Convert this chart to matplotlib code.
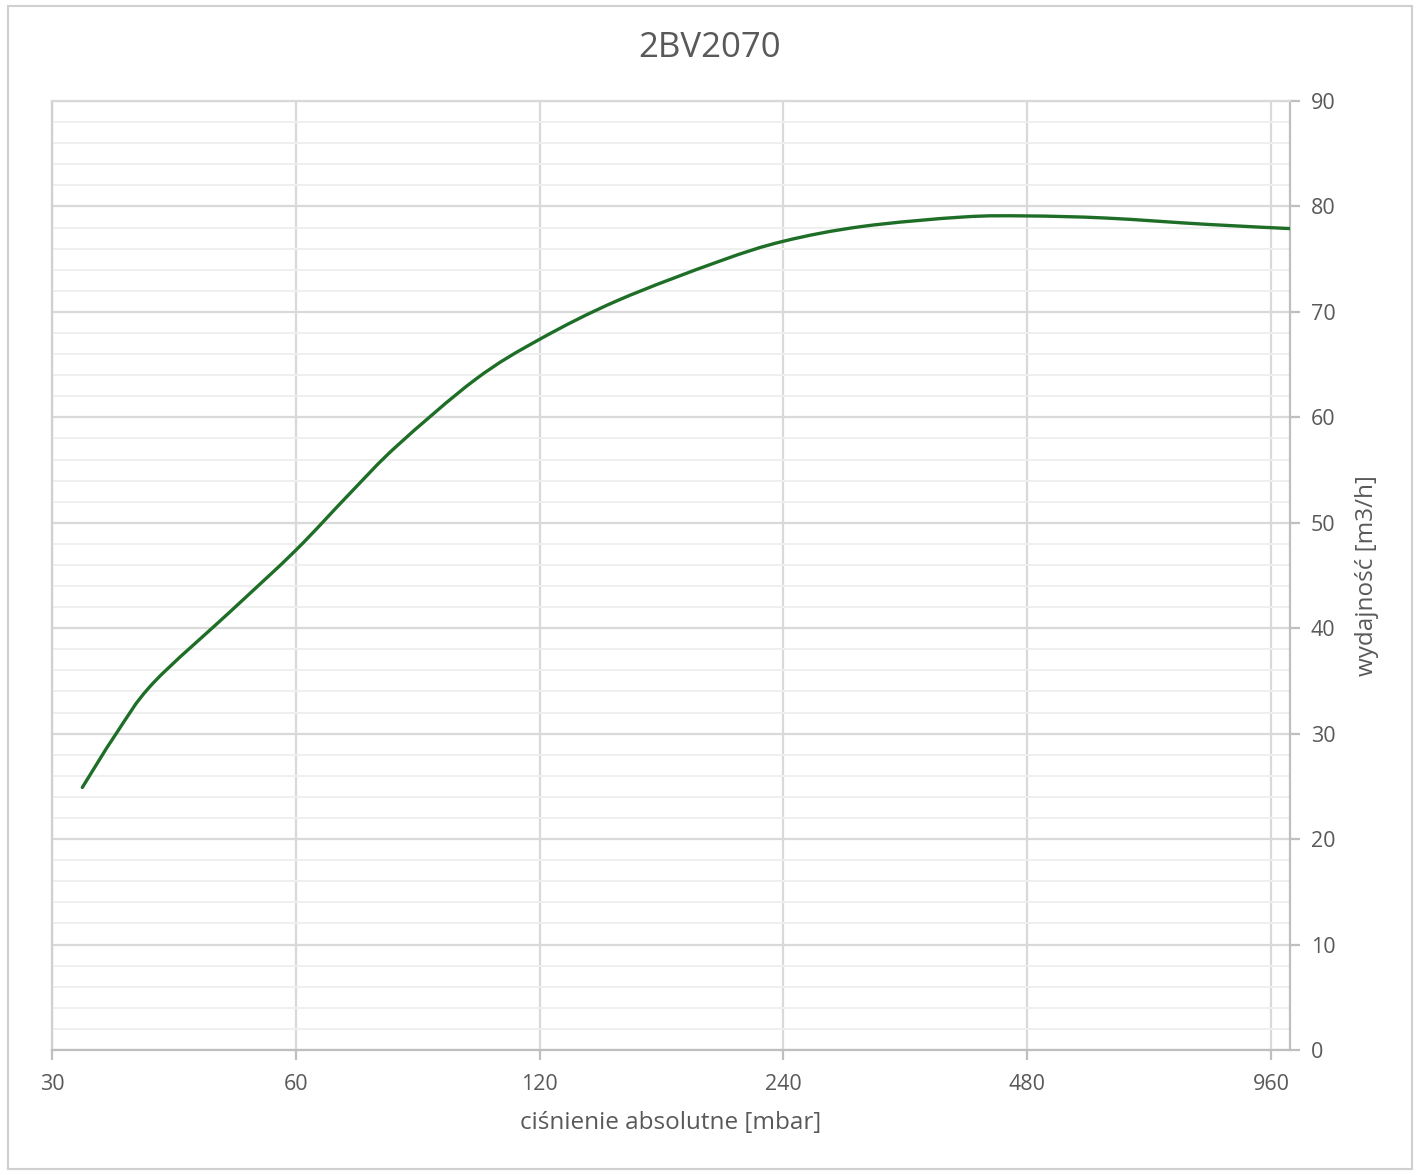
import matplotlib
matplotlib.use("Agg")
import numpy as np
import matplotlib.pyplot as plt
from matplotlib.ticker import FixedLocator, MultipleLocator, NullLocator
from matplotlib.patches import Rectangle, PathPatch
from matplotlib.path import Path

plt.rcParams['font.family'] = ['Open Sans', 'DejaVu Sans']

title = "2BV2070"
x_label = "ciśnienie absolutne [mbar]"
y_label = "wydajność [m3/h]"

pressure = [32.7, 36, 40, 50, 60, 70, 80, 100, 120, 150, 200, 240, 300, 400,
            480, 600, 800, 1013]
flow = [24.9, 30.0, 34.8, 41.7, 47.4, 52.8, 57.3, 63.6, 67.4, 71.1, 74.8, 76.7,
        78.1, 79.0, 79.1, 78.9, 78.3, 77.9]

x_ticks = [30, 60, 120, 240, 480, 960]
x_min, x_max = 30, 1013
y_min, y_max = 0, 90

TXT = '#595959'
MAJ = '#d9d9d9'
MIN = '#efefef'

fig = plt.figure(figsize=(14.19, 11.75), dpi=100)
fig.patches.append(Rectangle((8/1419, 6/1175), 1404/1419, 1163/1175, transform=fig.transFigure,
                             fill=False, edgecolor='#d0d0d0', linewidth=1.5))
ax = fig.add_axes([52/1419, 125/1175, 1238/1419, 949/1175])
ax.set_xscale('log', base=2)
ax.set_xlim(x_min, x_max)
ax.set_ylim(y_min, y_max)

ax.xaxis.set_major_locator(FixedLocator(x_ticks))
ax.xaxis.set_minor_locator(NullLocator())
ax.set_xticklabels([str(t) for t in x_ticks])
ax.yaxis.set_major_locator(MultipleLocator(10))
ax.yaxis.set_minor_locator(MultipleLocator(2))

ax.grid(which='major', axis='both', color=MAJ, linewidth=1.6, zorder=0)
ax.grid(which='minor', axis='y', color=MIN, linewidth=1.4, zorder=0)
ax.set_axisbelow(True)

for s in ['left', 'right', 'bottom', 'top']:
    ax.spines[s].set_color('#d0d0d0')
    ax.spines[s].set_linewidth(1.6)
ax.spines['top'].set_color(MAJ)
ax.spines['bottom'].set_color('#bfbfbf')
ax.spines['right'].set_color('#bfbfbf')

ax.yaxis.tick_right()
ax.yaxis.set_label_position('right')
ax.tick_params(axis='y', which='major', length=7, width=1.6, color='#bfbfbf',
               labelcolor=TXT, labelsize=15.5, pad=8, direction='out')
ax.tick_params(axis='y', which='minor', length=0)
ax.tick_params(axis='x', which='major', length=7, width=1.6, color='#bfbfbf',
               labelcolor=TXT, labelsize=15.5, pad=10, direction='out')

# Smoothed line (Catmull-Rom -> cubic Bezier) through the data points,
# built in log2(x) space so the curve is smooth on the log axis.
lx = np.log2(np.array(pressure, dtype=float))
yy = np.array(flow, dtype=float)
pts = np.column_stack([lx, yy])
verts = [pts[0]]
codes = [Path.MOVETO]
n = len(pts)
for i in range(n - 1):
    p0 = pts[i - 1] if i > 0 else pts[i]
    p1 = pts[i]
    p2 = pts[i + 1]
    p3 = pts[i + 2] if i + 2 < n else pts[i + 1]
    c1 = p1 + (p2 - p0) / 6.0
    c2 = p2 - (p3 - p1) / 6.0
    verts += [c1, c2, p2]
    codes += [Path.CURVE4] * 3
verts = np.array(verts)
verts[:, 0] = 2.0 ** verts[:, 0]
curve = PathPatch(Path(verts, codes), fill=False, edgecolor='#1e6e27', linewidth=2.4,
                  capstyle='round', joinstyle='round', zorder=3, transform=ax.transData)
ax.add_patch(curve)

fig.text(710/1419, 1 - 48/1175, title, fontsize=25, color=TXT, ha='center', va='center')
ax.set_xlabel(x_label, fontsize=17.5, color=TXT, labelpad=12)
ax.set_ylabel(y_label, fontsize=17.5, color=TXT, labelpad=14)

fig.savefig('out.png', dpi=100, facecolor='white')
